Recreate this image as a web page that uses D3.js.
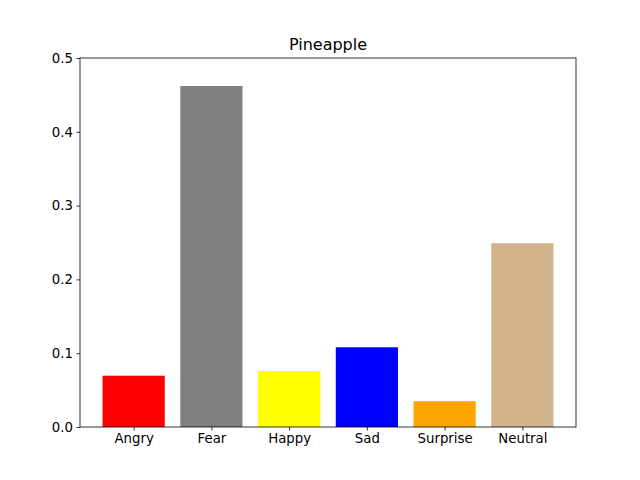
<!DOCTYPE html>
<html>
<head>
<meta charset="utf-8">
<script src="https://cdn.jsdelivr.net/npm/d3@7"></script>
<style>
body { margin: 0; background: #fff; }
svg { display: block; }
</style>
</head>
<body>
<svg id="chart" width="640" height="480"></svg>
<script>
const title = "Pineapple";
const categories = ["Angry", "Fear", "Happy", "Sad", "Surprise", "Neutral"];
const values = [0.0695, 0.462, 0.0759, 0.108, 0.035, 0.249];
const colors = ["red", "gray", "yellow", "blue", "orange", "tan"];
const yTicks = [0.0, 0.1, 0.2, 0.3, 0.4, 0.5];

(function () {
const svg = d3.select("#chart");
const mLeft = 80, mRight = 576, mTop = 58, mBottom = 427;
const font = "DejaVu Sans, sans-serif";

const n = categories.length;
const barW = 0.8;
const lo = -barW / 2, hi = n - 1 + barW / 2;
const pad = (hi - lo) * 0.05;
const x = d3.scaleLinear().domain([lo - pad, hi + pad]).range([mLeft, mRight]);
const y = d3.scaleLinear().domain([0, 0.5]).range([mBottom, mTop]);

svg.append("g").selectAll("rect")
  .data(values)
  .join("rect")
  .attr("x", (d, i) => x(i - barW / 2))
  .attr("width", (d, i) => x(i + barW / 2) - x(i - barW / 2))
  .attr("y", d => y(d))
  .attr("height", d => y(0) - y(d))
  .attr("fill", (d, i) => colors[i]);

const xAxis = d3.axisBottom(x)
  .tickValues(d3.range(n))
  .tickFormat(i => categories[i])
  .tickSize(3.5).tickPadding(3.5);
const gx = svg.append("g").attr("transform", `translate(0,${mBottom})`).call(xAxis);

const yAxis = d3.axisLeft(y)
  .tickValues(yTicks)
  .tickFormat(d3.format(".1f"))
  .tickSize(3.5).tickPadding(3.5);
const gy = svg.append("g").attr("transform", `translate(${mLeft},0)`).call(yAxis);

[gx, gy].forEach(g => {
  g.select(".domain").remove();
  g.selectAll("line").attr("stroke", "#000").attr("stroke-width", 0.8);
  g.selectAll("text").attr("font-family", font).attr("font-size", "13.3px").attr("fill", "#000");
});

svg.append("rect")
  .attr("x", mLeft).attr("y", mTop)
  .attr("width", mRight - mLeft).attr("height", mBottom - mTop)
  .attr("fill", "none").attr("stroke", "#000").attr("stroke-width", 0.8);

svg.append("text")
  .attr("x", (mLeft + mRight) / 2).attr("y", mTop - 8)
  .attr("text-anchor", "middle")
  .attr("font-family", font).attr("font-size", "16px")
  .text(title);
})();
</script>
</body>
</html>
